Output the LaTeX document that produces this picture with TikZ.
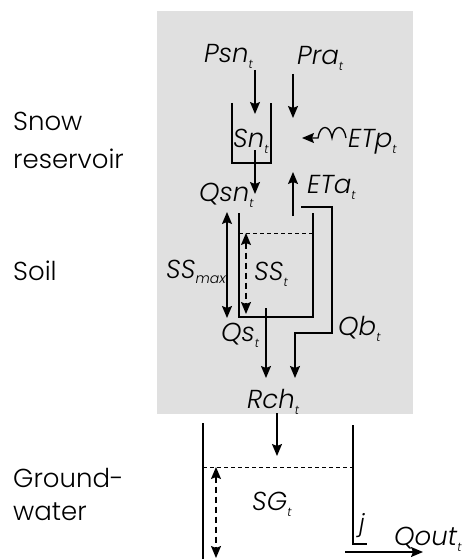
\documentclass[tikz,border=0pt]{standalone}
\usepackage{fontspec}
\IfFontExistsTF{Poppins Light Italic}{\setmainfont{Poppins Light}[ItalicFont={Poppins Light Italic}]}{\setmainfont{Poppins}}
\usetikzlibrary{arrows.meta}
\definecolor{boxgray}{RGB}{224,224,224}
\newcommand\lb[2]{\textit{#1}\raisebox{-6pt}{\fontsize{12}{12}\selectfont\textit{#2}}}
\begin{document}
\begin{tikzpicture}[x=1pt,y=-1pt,
  tip/.tip={Stealth[length=12pt,width=10pt,inset=2pt]},
  flow/.style={line width=1.3pt,-tip},
  wall/.style={line width=1.9pt},
  lvl/.style={line width=0.8pt,dash pattern=on 4pt off 3pt},
  dimarrow/.style={line width=1.3pt,tip-tip},
  dimdash/.style={line width=1.3pt,tip-tip,dash pattern=on 6pt off 4pt},
  lab/.style={anchor=base west,inner sep=0pt,font=\fontsize{26}{26}\selectfont},
  side/.style={anchor=base west,inner sep=0pt,font=\fontsize{26}{26}\selectfont},
]
\useasboundingbox (0,0) rectangle (463,559);
\fill[boxgray] (157,11) rectangle (413,414);

% side labels
\node[side] (snow) at (13,130) {Snow};
\node[side] (res) at (13,168) {reservoir};
\node[side] (soil) at (13,280) {Soil};
\node[side] (ground) at (13,487) {Ground-};
\node[side] (water) at (13,520) {water};

% flux labels
\node[lab] (psn) at (204,63) {\lb{Psn}{t}};
\node[lab] (pra) at (297,65) {\lb{Pra}{t}};
\node[lab] (sn) at (233,147) {\lb{Sn}{t}};
\node[lab] (etp) at (348,147) {\lb{ETp}{t}};
\node[lab] (eta) at (307,193) {\lb{ETa}{t}};
\node[lab] (qsn) at (199,201) {\lb{Qsn}{t}};
\node[lab] (ssmax) at (166,278) {\textit{SS}\raisebox{-5pt}{\fontsize{14}{14}\selectfont\textit{max}}};
\node[lab] (sst) at (254,280) {\lb{SS}{t}};
\node[lab] (qs) at (221,341) {\lb{Qs}{t}};
\node[lab] (qb) at (338,335) {\lb{Qb}{t}};
\node[lab] (rch) at (247,408) {\lb{Rch}{t}};
\node[lab] (sg) at (252,510) {\lb{SG}{t}};
\node[lab,font=\fontsize{24}{24}\selectfont] (j) at (359,531) {\textit{j}};
\node[lab] (qout) at (394,545) {\lb{Qout}{t}};

% coordinates
\coordinate (psnA) at (255,70);  \coordinate (psnB) at (255,114);
\coordinate (praA) at (293,74);  \coordinate (praB) at (293,118);
\coordinate (snTL) at (232,103); \coordinate (snBL) at (232,163);
\coordinate (snBR) at (271,163); \coordinate (snTR) at (271,103);
\coordinate (qsnA) at (255,150); \coordinate (qsnB) at (255,194);
\coordinate (etpA) at (346,138); \coordinate (etpW) at (318,138); \coordinate (etpB) at (302,138);
\coordinate (etaA) at (293,216); \coordinate (etaB) at (293,172);
\coordinate (soTL) at (239,213); \coordinate (soBL) at (239,317);
\coordinate (soBR) at (313,317); \coordinate (soTR) at (313,213);
\coordinate (soLvL) at (239,233); \coordinate (soLvR) at (313,233);
\coordinate (smA) at (227,212); \coordinate (smB) at (227,318);
\coordinate (stA) at (246,233); \coordinate (stB) at (246,314);
\coordinate (qsA) at (266,308); \coordinate (qsB) at (266,378);
\coordinate (qb1) at (301,207); \coordinate (qb2) at (332,207);
\coordinate (qb3) at (332,333); \coordinate (qb4) at (295,333); \coordinate (qb5) at (295,378);
\coordinate (rchA) at (277,413); \coordinate (rchB) at (277,456);
\coordinate (gwLT) at (203,423); \coordinate (gwLB) at (203,570);
\coordinate (gwRT) at (353,425); \coordinate (gwRB) at (353,544); \coordinate (gwRj) at (367,544);
\coordinate (gwLvL) at (203,467); \coordinate (gwLvR) at (353,467);
\coordinate (sgA) at (216,467); \coordinate (sgB) at (216,558);
\coordinate (qoA) at (345,552); \coordinate (qoB) at (423,552);

% snow reservoir
\draw[flow] (psnA) -- (psnB);
\draw[flow] (praA) -- (praB);
\draw[wall,line width=1.5pt] (snTL) -- (snBL) -- (snBR) -- (snTR);
\draw[flow] (qsnA) -- (qsnB);
\draw[line width=1.3pt,-tip] (etpA) .. controls +(-2,-14) and +(2,-14) .. ++(-14,0)
   .. controls +(-2,-14) and +(2,-14) .. ++(-14,0) -- (etpB);
\draw[flow] (etaA) -- (etaB);

% soil
\draw[wall] (soTL) -- (soBL) -- (soBR) -- (soTR);
\draw[lvl] (soLvL) -- (soLvR);
\draw[dimarrow] (smA) -- (smB);
\draw[dimdash] (stA) -- (stB);
\draw[flow] (qsA) -- (qsB);
\draw[line width=1.6pt,-tip] (qb1) -- (qb2) -- (qb3) -- (qb4) -- (qb5);
\draw[flow] (rchA) -- (rchB);

% groundwater
\draw[wall] (gwLT) -- (gwLB);
\draw[wall] (gwRT) -- (gwRB) -- (gwRj);
\draw[lvl] (gwLvL) -- (gwLvR);
\draw[dimdash] (sgA) -- (sgB);
\draw[flow] (qoA) -- (qoB);
\end{tikzpicture}
\end{document}
